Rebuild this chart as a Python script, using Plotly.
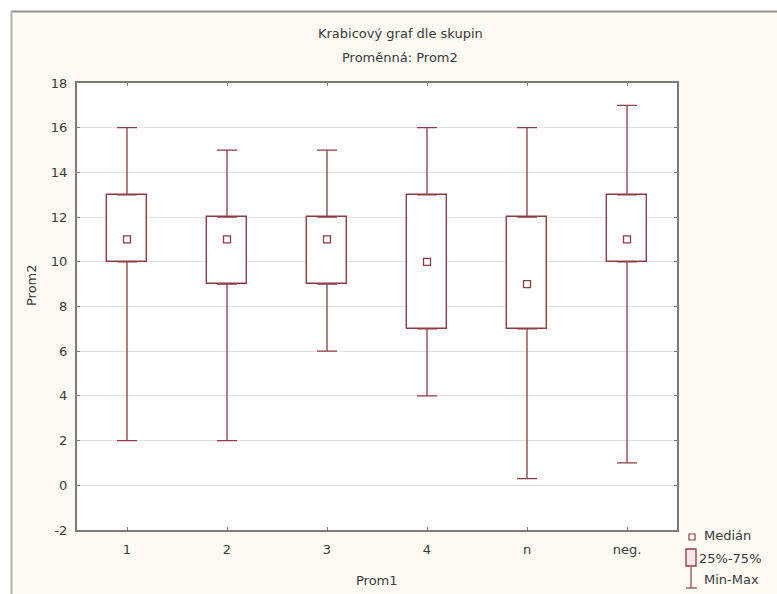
import plotly.graph_objects as go
import numpy as np

categories = ["1", "2", "3", "4", "n", "neg."]
mins = [2, 2, 6, 4, 0.3, 1]
q1s = [10, 9, 9, 7, 7, 10]
medians = [11, 11, 11, 10, 9, 11]
q3s = [13, 12, 12, 13, 12, 13]
maxs = [16, 15, 15, 16, 16, 17]
y_ticks = list(range(-2, 19, 2))

MAROON = "#8e3b45"
TXT = "#3a3a3a"
FONT = "DejaVu Sans, Verdana, sans-serif"
FS = 13

idx = np.arange(len(categories))
mins_a, q1_a, med_a, q3_a, max_a = map(np.array, (mins, q1s, medians, q3s, maxs))

# plot area in pixels
L, R, T, B = 77, 677, 83, 530
W_, H_ = 777, 594
def px(x):
    return (x - L) / (R - L)
def py(y):
    return (B - y) / (B - T)

fig = go.Figure()

# upper whiskers
fig.add_trace(go.Scatter(
    x=idx, y=q3_a, mode="markers",
    marker=dict(size=1, color="rgba(0,0,0,0)"),
    error_y=dict(type="data", symmetric=False, array=max_a - q3_a,
                 arrayminus=np.zeros(len(idx)), width=10, thickness=1.3, color=MAROON),
    hoverinfo="skip", showlegend=False))
# lower whiskers
fig.add_trace(go.Scatter(
    x=idx, y=q1_a, mode="markers",
    marker=dict(size=1, color="rgba(0,0,0,0)"),
    error_y=dict(type="data", symmetric=False, array=np.zeros(len(idx)),
                 arrayminus=q1_a - mins_a, width=10, thickness=1.3, color=MAROON),
    hoverinfo="skip", showlegend=False))
# boxes
fig.add_trace(go.Bar(
    x=idx, y=q3_a - q1_a, base=q1_a, width=0.4,
    marker=dict(color="white", line=dict(color=MAROON, width=1.4)),
    showlegend=False, hoverinfo="skip"))
# medians
fig.add_trace(go.Scatter(
    x=idx, y=med_a, mode="markers",
    marker=dict(symbol="square-open", size=7, color=MAROON, line=dict(width=1.3)),
    showlegend=False, hoverinfo="skip"))

shapes = []
# white strips outside the window frame
shapes.append(dict(type="rect", xref="paper", yref="paper", x0=px(-5), x1=px(11), y0=py(600), y1=py(-5),
                   fillcolor="white", line=dict(width=0), layer="below"))
shapes.append(dict(type="rect", xref="paper", yref="paper", x0=px(-5), x1=px(785), y0=py(11), y1=py(-5),
                   fillcolor="white", line=dict(width=0), layer="below"))
# frame lines
shapes.append(dict(type="line", xref="paper", yref="paper", x0=px(11), x1=px(785), y0=py(11.5), y1=py(11.5),
                   line=dict(color="#8f8f8f", width=2), layer="below"))
shapes.append(dict(type="line", xref="paper", yref="paper", x0=px(11.5), x1=px(11.5), y0=py(11), y1=py(600),
                   line=dict(color="#b5b2ac", width=2), layer="below"))

# legend symbols
shapes.append(dict(type="rect", xref="paper", yref="paper", x0=px(689), x1=px(695), y0=py(540), y1=py(534),
                   line=dict(color=MAROON, width=1.2), fillcolor="white"))
shapes.append(dict(type="rect", xref="paper", yref="paper", x0=px(686), x1=px(696), y0=py(566), y1=py(549),
                   line=dict(color=MAROON, width=1.3), fillcolor="#f7e6e8"))
shapes.append(dict(type="line", xref="paper", yref="paper", x0=px(691), x1=px(691), y0=py(588), y1=py(567),
                   line=dict(color=MAROON, width=1.2)))
shapes.append(dict(type="line", xref="paper", yref="paper", x0=px(686), x1=px(697), y0=py(588), y1=py(588),
                   line=dict(color=MAROON, width=1.2)))

def ann(text, x, y, anchor="center", angle=0):
    return dict(text=text, xref="paper", yref="paper", x=px(x), y=py(y), textangle=angle,
                showarrow=False, font=dict(size=FS, color=TXT, family=FONT),
                xanchor=anchor, yanchor="middle")

annotations = [
    ann("Krabicový graf dle skupin", 400, 33),
    ann("Proměnná: Prom2", 400, 57),
    ann("Medián", 702, 535, "left"),
    ann("25%-75%", 697, 558, "left"),
    ann("Min-Max", 702, 579, "left"),
    ann("Prom1", 377, 580),
    ann("Prom2", 31, 285, angle=-90),
]

fig.update_layout(
    width=W_, height=H_,
    margin=dict(l=L, r=W_ - R, t=T, b=H_ - B, pad=0),
    paper_bgcolor="#fdf9f3", plot_bgcolor="white",
    font=dict(family=FONT, size=FS, color=TXT),
    shapes=shapes, annotations=annotations,
    showlegend=False, bargap=0,
    xaxis=dict(range=[-0.5, 5.5], tickvals=list(idx), ticktext=categories,
               showgrid=False, zeroline=False, showline=True, linecolor="#7a7a7a", linewidth=2,
               mirror="ticks", ticks="inside", ticklen=3, tickcolor="#7a7a7a",
               ticklabelstandoff=6,
               tickfont=dict(size=FS, color=TXT, family=FONT), fixedrange=True),
    yaxis=dict(range=[-2, 18], tickvals=y_ticks, ticktext=[str(v) for v in y_ticks],
               showgrid=True, gridcolor="#e2e2e2", gridwidth=1, zeroline=False,
               showline=True, linecolor="#7a7a7a", linewidth=2,
               mirror="ticks", ticks="inside", ticklen=3, tickcolor="#7a7a7a",
               ticklabelstandoff=5,
               tickfont=dict(size=FS, color=TXT, family=FONT), fixedrange=True),
)

fig.write_html("out.html", config={"displayModeBar": False})
